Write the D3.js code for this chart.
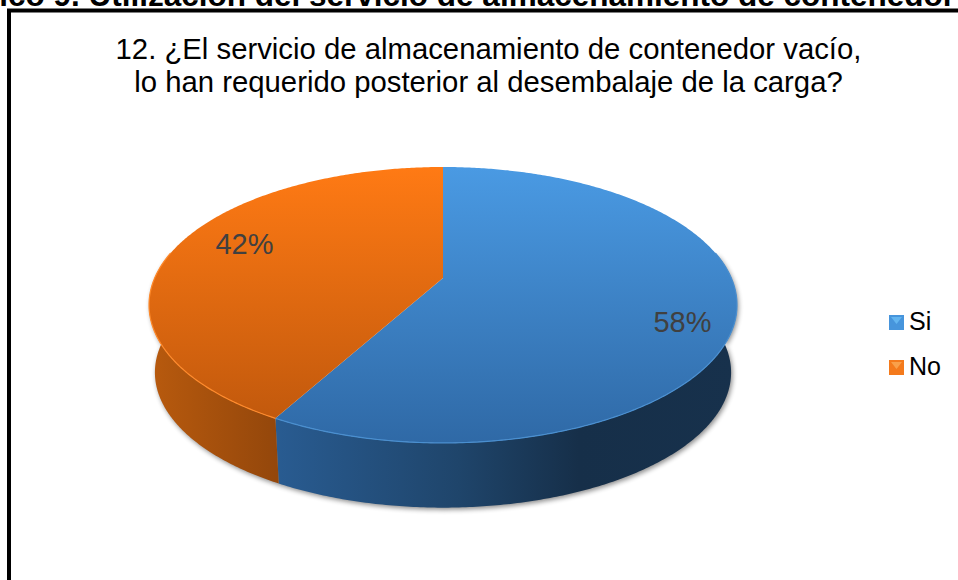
<!DOCTYPE html>
<html>
<head>
<meta charset="utf-8">
<script src="https://cdn.jsdelivr.net/npm/d3@7"></script>
<style>
    html, body { margin: 0; padding: 0; background: #fff; overflow: hidden; }
    text { font-family: "Liberation Sans", Arial, sans-serif; }
</style>
</head>
<body>
<div id="vis"></div>
<script>
var categories = ['Si', 'No'];
var values = [58, 42];
var titleLines = [
    '12. ¿El servicio de almacenamiento de contenedor vacío,',
    'lo han requerido posterior al desembalaje de la carga?'
];
var heading = 'Gráfico 9. Utilización del servicio de almacenamiento de contenedor';

var svg = d3.select('#vis')
    .append('svg')
    .attr('width', 958)
    .attr('height', 580);

var defs = svg.append('defs');

var addGradient = function(id, x1, y1, x2, y2, stops) {
    var grad = defs.append('linearGradient')
        .attr('id', id)
        .attr('gradientUnits', 'userSpaceOnUse')
        .attr('x1', x1).attr('y1', y1)
        .attr('x2', x2).attr('y2', y2);
    stops.forEach(function(s) {
        grad.append('stop').attr('offset', s[0]).attr('stop-color', s[1]);
    });
};

addGradient('top0', 0, 167, 0, 443, [[0, '#4a9ae3'], [1, '#2f69a6']]);
addGradient('top1', 0, 167, 0, 443, [[0, '#ff7a14'], [1, '#bc560c']]);
addGradient('side0', 272, 0, 737, 0, [[0, '#295c92'], [0.4, '#1f456b'], [0.66, '#162f49'], [1, '#17314c']]);
addGradient('side1', 150, 0, 276, 0, [[0, '#b85a0e'], [1, '#94470b']]);
addGradient('leg0', 0, 315, 0, 330, [[0, '#4795dc'], [0.8, '#2e6aa6'], [0.81, '#1f4d7c'], [1, '#1f4d7c']]);
addGradient('leg1', 0, 360, 0, 375, [[0, '#f47a1c'], [0.8, '#c9600f'], [0.81, '#94470b'], [1, '#94470b']]);

var blur = defs.append('filter')
    .attr('id', 'shadow')
    .attr('x', '-10%').attr('y', '-10%')
    .attr('width', '120%').attr('height', '120%');
blur.append('feGaussianBlur').attr('stdDeviation', 2.5);

var soft = defs.append('filter').attr('id', 'soft');
soft.append('feGaussianBlur').attr('stdDeviation', 0.7);

// heading of the page, cut off by the top of the picture
svg.append('text')
    .attr('x', 955)
    .attr('y', 6)
    .attr('text-anchor', 'end')
    .style('font-size', '31.5px')
    .style('font-weight', 'bold')
    .attr('fill', '#000')
    .text(heading);

// chart frame, right and bottom run off the picture
svg.append('path')
    .attr('d', 'M9,580V10.5H958')
    .attr('fill', 'none')
    .attr('stroke', '#000')
    .attr('stroke-width', 4);

svg.selectAll('.title')
    .data(titleLines)
    .enter().append('text')
    .attr('class', 'title')
    .attr('x', 488.5)
    .attr('y', function(d, i) { return 58.5 + i * 33.5; })
    .attr('text-anchor', 'middle')
    .style('font-size', '29.3px')
    .attr('fill', '#000')
    .text(function(d) { return d; });

// tilted disc: vanishing point moves the centre up from the middle of the ellipse
var cx = 443, cy = 278;
var k = 0.1955, A = 132.7, C = 288.3;
var depth = 68, shrink = 0.98;

var project = function(theta, r) {
    var u = Math.sin(theta) * r;
    var v = -Math.cos(theta) * r;
    var w = 1 - k * v;
    return [C * u / w, A * v / w];
};

var topPoint = function(theta, r) {
    var p = project(theta, r);
    return [cx + p[0], cy + p[1]];
};

var bottomPoint = function(theta) {
    var p = project(theta, 1);
    return [cx + p[0] * shrink, cy + p[1] * shrink + depth];
};

var line = d3.line();
var slices = d3.pie().sort(null)(values);

var sampleAngles = function(a, b) {
    var n = Math.max(2, Math.ceil((b - a) / 0.01));
    return d3.range(n + 1).map(function(i) { return a + (b - a) * i / n; });
};

// front of the rim runs between the two points where the outline turns back
var frontStart = Math.PI / 2 - Math.asin(k);
var frontEnd = 3 * Math.PI / 2 + Math.asin(k);

var sidePath = function(d) {
    var angles = sampleAngles(Math.max(d.startAngle, frontStart), Math.min(d.endAngle, frontEnd));
    var pts = angles.map(function(t) { return topPoint(t, 1); })
        .concat(angles.slice().reverse().map(bottomPoint));
    return line(pts) + 'Z';
};

var rimPath = function(d) {
    var angles = sampleAngles(Math.max(d.startAngle, frontStart), Math.min(d.endAngle, frontEnd));
    return line(angles.map(function(t) { return topPoint(t, 1); }));
};

var topPath = function(d) {
    var pts = sampleAngles(d.startAngle, d.endAngle).map(function(t) { return topPoint(t, 1); });
    pts.unshift([cx, cy]);
    return line(pts) + 'Z';
};

var wholeSide = { startAngle: 0, endAngle: 2 * Math.PI };

svg.append('path')
    .attr('d', sidePath(wholeSide))
    .attr('transform', 'translate(1.5,2)')
    .attr('fill', '#000')
    .attr('opacity', 0.45)
    .attr('filter', 'url(#shadow)');

svg.selectAll('.side')
    .data(slices)
    .enter().append('path')
    .attr('class', 'side')
    .attr('d', sidePath)
    .attr('fill', function(d, i) { return 'url(#side' + i + ')'; });

svg.selectAll('.face')
    .data(slices)
    .enter().append('path')
    .attr('class', 'face')
    .attr('d', topPath)
    .attr('fill', function(d, i) { return 'url(#top' + i + ')'; });

svg.selectAll('.rim')
    .data(slices)
    .enter().append('path')
    .attr('class', 'rim')
    .attr('d', rimPath)
    .attr('fill', 'none')
    .attr('stroke', function(d, i) { return i === 0 ? '#4a8fd0' : '#ff8a2c'; })
    .attr('stroke-width', 1.2)
    .attr('filter', 'url(#soft)');

var labelPos = [[682.5, 332], [244.5, 254]];

svg.selectAll('.pct')
    .data(slices)
    .enter().append('text')
    .attr('class', 'pct')
    .attr('x', function(d, i) { return labelPos[i][0]; })
    .attr('y', function(d, i) { return labelPos[i][1]; })
    .attr('text-anchor', 'middle')
    .style('font-size', '29px')
    .attr('fill', '#404040')
    .text(function(d) { return d.value + '%'; });

var legend = svg.selectAll('.legend')
    .data(categories)
    .enter().append('g')
    .attr('class', 'legend')
    .attr('transform', function(d, i) { return 'translate(889,' + (315 + i * 45) + ')'; });

legend.append('rect')
    .attr('width', 15)
    .attr('height', 15)
    .attr('fill', function(d, i) { return 'url(#leg' + i + ')'; });

legend.append('path')
    .attr('d', 'M2,2H13L7.5,9Z')
    .attr('fill', function(d, i) { return i === 0 ? '#63b5f0' : '#f9a04a'; });

legend.append('text')
    .attr('x', 20)
    .attr('y', 15)
    .style('font-size', '25px')
    .attr('fill', '#000')
    .text(function(d) { return d; });
</script>
</body>
</html>
